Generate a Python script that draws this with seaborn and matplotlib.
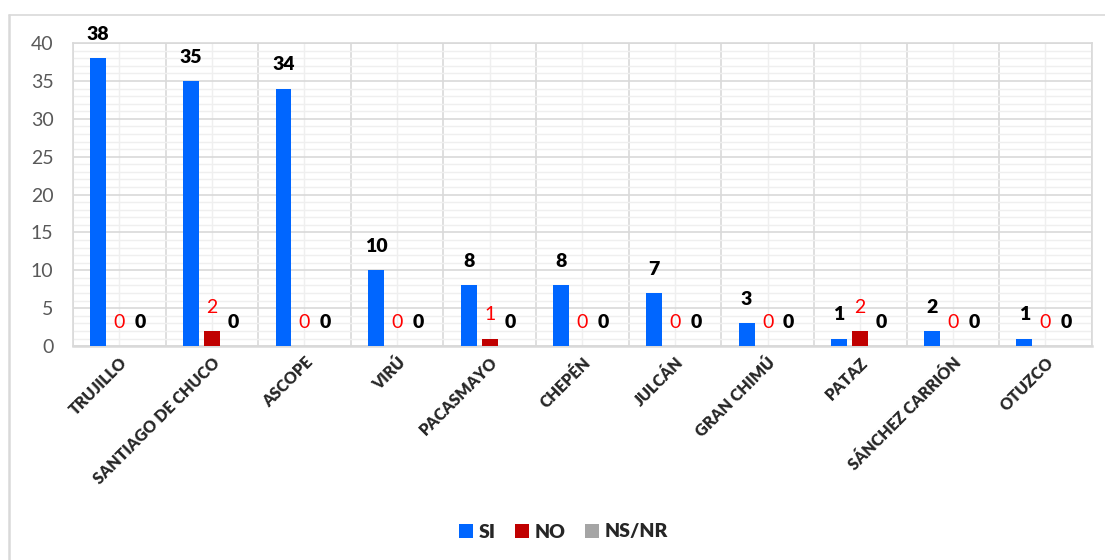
import pandas as pd
import seaborn as sns
import matplotlib.pyplot as plt
from matplotlib.lines import Line2D
from matplotlib.patches import Patch
from matplotlib.ticker import MultipleLocator

provincias = ['TRUJILLO', 'SANTIAGO DE CHUCO', 'ASCOPE', 'VIRÚ', 'PACASMAYO', 'CHEPÉN',
              'JULCÁN', 'GRAN CHIMÚ', 'PATAZ', 'SÁNCHEZ CARRIÓN', 'OTUZCO']
si = [38, 35, 34, 10, 8, 8, 7, 3, 1, 2, 1]
no = [0, 2, 0, 0, 1, 0, 0, 0, 2, 0, 0]
ns_nr = [0, 0, 0, 0, 0, 0, 0, 0, 0, 0, 0]
series = ['SI', 'NO', 'NS/NR']
colores = ['#0066FF', '#C00000', '#A5A5A5']

df = pd.DataFrame({
    'provincia': provincias * 3,
    'valor': si + no + ns_nr,
    'serie': [s for s in series for _ in provincias],
})

sns.set_style('white')
plt.rcParams['font.family'] = ['Lato', 'DejaVu Sans']

fig = plt.figure(figsize=(11.05, 5.6), dpi=100)
ax = fig.add_axes([0.066, 0.382, 0.922, 0.541])

sns.barplot(data=df, x='provincia', y='valor', hue='serie', palette=colores,
            width=0.68, gap=0.24, saturation=1, linewidth=0,
            ax=ax, legend=False, zorder=3)

ax.set_ylim(0, 40)
ax.set_xlim(-0.5, len(provincias) - 0.5)
ax.yaxis.set_major_locator(MultipleLocator(5))
ax.yaxis.set_minor_locator(MultipleLocator(1))
ax.set_xticks(range(len(provincias)), minor=False)
ax.set_xticks([i - 0.5 for i in range(len(provincias) + 1)], minor=True)
ax.grid(axis='y', which='major', color='#D9D9D9', lw=1.2, zorder=0)
ax.grid(axis='y', which='minor', color='#EFEFEF', lw=1.0, zorder=0)
ax.grid(axis='x', which='minor', color='#D9D9D9', lw=1.2, zorder=0)
ax.grid(axis='x', which='major', color='#EFEFEF', lw=1.0, zorder=0)
ax.set_axisbelow(True)
for sp in ax.spines.values():
    sp.set_color('#D9D9D9')
    sp.set_linewidth(1.2)
ax.spines['bottom'].set_linewidth(1.8)

ax.tick_params(axis='both', which='both', length=0)
ax.tick_params(axis='y', labelsize=14, labelcolor='#595959', pad=14)
ax.set_xticklabels(provincias, rotation=45, ha='right', rotation_mode='anchor',
                   fontsize=11.5, fontweight='heavy')
ax.tick_params(axis='x', pad=6)
ax.set_xlabel('')
ax.set_ylabel('')

estilos = [dict(color='black', fontweight='heavy'),
           dict(color='#FF0000', fontweight='normal'),
           dict(color='black', fontweight='heavy')]
for cont, st in zip(ax.containers, estilos):
    ax.bar_label(cont, fmt='%d', padding=11, fontsize=14, **st)

handles = [Patch(facecolor=c, edgecolor='none') for c in colores]
fig.legend(handles, series, loc='center', bbox_to_anchor=(0.51, 0.05), ncol=3,
           frameon=False, prop={'weight': 'heavy', 'size': 14},
           handlelength=0.7, handleheight=0.7, handletextpad=0.3, columnspacing=1.0)

# borde exterior del grafico
fig.add_artist(Line2D([0.008, 1.0], [1 - 15 / 560, 1 - 15 / 560], color='#D9D9D9', lw=1.2))
fig.add_artist(Line2D([0.008, 0.008], [0, 1 - 15 / 560], color='#D9D9D9', lw=1.8))

fig.savefig('out.png', dpi=100)
